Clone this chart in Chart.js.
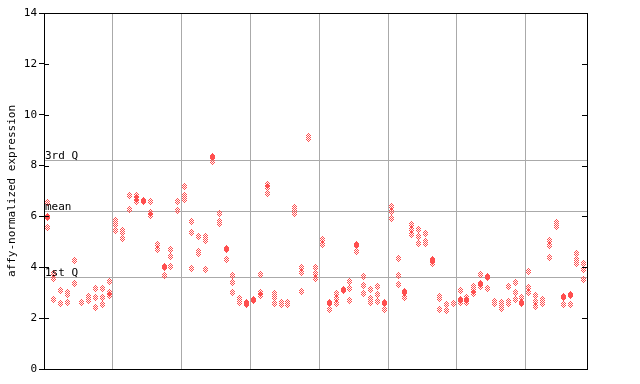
<!DOCTYPE html>
<html><head><meta charset="utf-8">
<script src="https://cdn.jsdelivr.net/npm/chart.js@4/dist/chart.umd.min.js"></script>
<style>html,body{margin:0;padding:0;background:#fff}#wrap{width:640px;height:384px;position:relative}</style>
</head><body><div id="wrap"><canvas id="c"></canvas></div>
<script>
// ---- data ----
const yTicks = [0, 2, 4, 6, 8, 10, 12, 14];
const refLabels = ['3rd Q', 'mean', '1st Q'];
const refValues = [8.23, 6.23, 3.63];
const yTitle = 'affy-normalized expression';
const groupBoundaries = [10, 20, 30, 40, 50, 60, 70];

const g1 = [[6.53, 6.0, 5.94, 5.55], [3.74, 3.55, 2.75], [3.10, 3.07, 2.59], [3.00, 2.92, 2.63], [4.28, 4.25, 3.38],
            [2.63], [2.87, 2.78, 2.70], [3.15, 2.80, 2.43], [3.15, 2.80, 2.52], [3.44, 3.00, 2.90]];
const g2 = [[5.84, 5.68, 5.44], [5.45, 5.37, 5.15], [6.82, 6.29, 6.26], [6.82, 6.69, 6.57], [6.62, 6.58],
            [6.57, 6.16, 6.04], [4.89, 4.69], [4.02, 3.99, 3.69], [4.69, 4.44, 4.02], [6.57, 6.25, 6.22]];
const g3 = [[7.16, 6.82, 6.65], [5.82, 5.35, 3.97], [5.23, 4.63, 4.55], [5.23, 5.07, 3.93], [8.35, 8.30, 8.15],
            [6.10, 5.81, 5.74], [4.73, 4.70, 4.32], [3.69, 3.42, 3.02], [2.79, 2.60], [2.60, 2.57, 2.52]];
const g4 = [[2.75, 2.71], [3.73, 3.02, 2.90], [7.24, 7.14, 6.89], [2.98, 2.83, 2.56], [2.63, 2.55],
            [2.63, 2.55, 2.52], [6.37, 6.27, 6.10], [4.01, 3.81, 3.06], [9.14, 9.05], [4.01, 3.77, 3.54]];
const g5 = [[5.11, 4.88], [2.60, 2.57, 2.35], [2.98, 2.79, 2.59], [3.12, 3.08], [3.46, 3.18, 2.71],
            [4.88, 4.84, 4.64], [3.65, 3.30, 2.98], [3.14, 2.79, 2.63], [3.23, 2.94, 2.67], [2.60, 2.57, 2.35]];
const g6 = [[6.41, 6.18, 5.90], [4.36, 3.69, 3.34], [3.04, 3.00, 2.83], [5.67, 5.47, 5.27], [5.47, 5.23, 4.92],
            [5.31, 5.00, 4.92], [4.30, 4.26, 4.16], [2.87, 2.79, 2.35], [2.55, 2.31], [2.59]];
const g7 = [[3.10, 2.73, 2.70, 2.62], [2.83, 2.73, 2.70, 2.62], [3.25, 3.10, 2.98], [3.73, 3.36, 3.32, 3.25], [3.65, 3.59, 3.18],
            [2.67, 2.59], [2.63, 2.55, 2.39], [3.26, 2.67, 2.59], [3.42, 3.02, 2.75], [2.83, 2.61, 2.57]];
const g8 = [[3.85, 3.22, 3.02], [2.90, 2.67, 2.47], [2.75, 2.59], [5.07, 4.84, 4.40], [5.78, 5.70, 5.59],
            [2.85, 2.81, 2.55], [2.92, 2.88, 2.55], [4.56, 4.32, 4.16], [4.13, 3.93, 3.51]];

// ---- build points ----
const allPositions = [...g1, ...g2, ...g3, ...g4, ...g5, ...g6, ...g7, ...g8];
const points = [];
allPositions.forEach((vals, i) => vals.forEach(v => points.push({ x: i + 0.45, y: v })));

// ---- marker: small checkered diamond ----
const mk = document.createElement('canvas');
mk.width = 5; mk.height = 7;
const mctx = mk.getContext('2d');
mctx.fillStyle = '#ff4f4f';
[[2], [1, 3], [0, 2, 4], [1, 3], [0, 2, 4], [1, 3], [2]].forEach((r, y) => r.forEach(x => mctx.fillRect(x, y, 1, 1)));

const FONT = '"DejaVu Sans Mono", monospace';

const decor = {
  id: 'decor',
  beforeDatasetsDraw(chart) {
    const { ctx, chartArea: a, scales: { y } } = chart;
    ctx.save();
    ctx.strokeStyle = '#aaaaaa';
    ctx.lineWidth = 1;
    refValues.forEach(v => {
      const py = Math.round(y.getPixelForValue(v)) + 0.5;
      ctx.beginPath(); ctx.moveTo(a.left, py); ctx.lineTo(a.right, py); ctx.stroke();
    });
    ctx.restore();
    ctx.imageSmoothingEnabled = false;
  },
  afterDraw(chart) {
    const { ctx, chartArea: a, scales: { y } } = chart;
    ctx.save();
    ctx.strokeStyle = '#000';
    ctx.lineWidth = 1;
    // inner ticks left and right
    yTicks.forEach(v => {
      const py = Math.round(y.getPixelForValue(v)) + 0.5;
      ctx.beginPath();
      ctx.moveTo(a.left, py); ctx.lineTo(a.left + 5, py);
      ctx.moveTo(a.right - 6, py); ctx.lineTo(a.right, py);
      ctx.stroke();
    });
    // frame
    ctx.strokeRect(a.left + 0.5, a.top + 0.5, a.right - a.left - 1, a.bottom - a.top);
    // reference labels
    ctx.fillStyle = '#000';
    ctx.font = '11px ' + FONT;
    ctx.textAlign = 'left';
    ctx.textBaseline = 'alphabetic';
    refValues.forEach((v, i) => {
      const py = Math.round(y.getPixelForValue(v));
      ctx.fillText(refLabels[i], a.left + 1, py - 1);
    });
    // y title
    ctx.translate(12, (a.top + a.bottom) / 2);
    ctx.rotate(-Math.PI / 2);
    ctx.textAlign = 'center';
    ctx.textBaseline = 'middle';
    ctx.fillText(yTitle, 0, 0);
    ctx.restore();
  }
};

new Chart(document.getElementById('c'), {
  type: 'scatter',
  data: {
    datasets: [{
      data: points,
      pointStyle: mk,
      pointRadius: 3,
      pointHoverRadius: 3,
      backgroundColor: '#ff4f4f',
      borderColor: '#ff4f4f'
    }]
  },
  options: {
    responsive: true,
    maintainAspectRatio: false,
    animation: false,
    events: [],
    layout: { padding: { left: 0, right: 52, top: 13, bottom: 15 } },
    plugins: { legend: { display: false }, tooltip: { enabled: false } },
    scales: {
      x: {
        type: 'linear',
        min: 0,
        max: 79.05,
        afterBuildTicks: s => { s.ticks = groupBoundaries.map(v => ({ value: v })); },
        afterFit: s => { s.height = 0; },
        ticks: { display: false },
        grid: { color: '#aaaaaa', lineWidth: 1, drawTicks: false },
        border: { display: false }
      },
      y: {
        min: 0,
        max: 14,
        afterBuildTicks: s => { s.ticks = yTicks.map(v => ({ value: v })); },
        afterFit: s => { s.width = 44; },
        ticks: {
          color: '#000',
          padding: 2,
          font: { family: FONT, size: 11 },
          callback: v => String(v)
        },
        grid: { drawOnChartArea: false, drawTicks: true, tickLength: 5, tickColor: '#000' },
        border: { display: false }
      }
    }
  },
  plugins: [decor]
});
</script>
</body></html>
